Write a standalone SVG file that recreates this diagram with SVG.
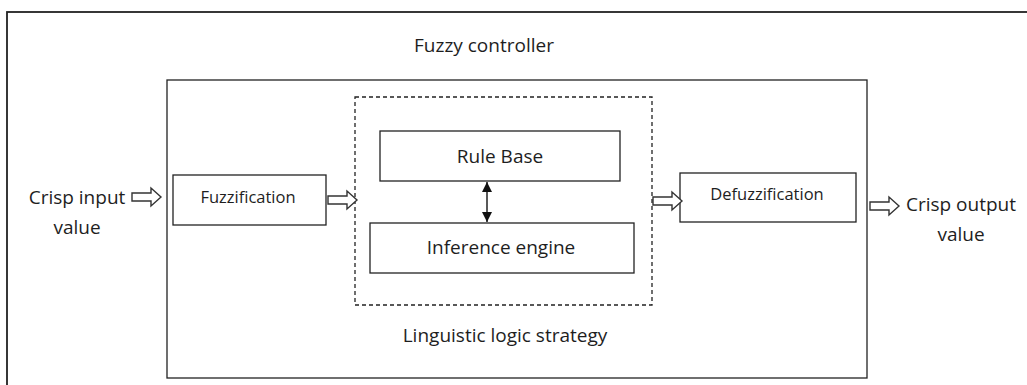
<svg xmlns="http://www.w3.org/2000/svg" width="1027" height="385" viewBox="0 0 1027 385">
<style>
.box{fill:#fff;stroke:#222;stroke-width:1.3}
.dash{fill:none;stroke:#222;stroke-width:1.3;stroke-dasharray:4 3}
.t{font-family:"Open Sans","Liberation Sans",sans-serif;fill:#1e1e1e;text-anchor:middle;font-size:19px}
.s{font-size:16.5px}
.hollow{fill:#fff;stroke:#333;stroke-width:1.4;stroke-linejoin:miter}
.conn{stroke:#222;stroke-width:1.5;fill:none}
</style>
<defs>
<path id="ha" d="M0,-4 H19 V-9 L29,0 L19,9 V4 H0 Z"/>
<marker id="ah" viewBox="0 0 10 10" refX="10" refY="5" markerWidth="10" markerHeight="10" markerUnits="userSpaceOnUse" orient="auto-start-reverse"><path d="M0,0 L10,5 L0,10 Z" fill="#111"/></marker>
</defs>
<rect width="1027" height="385" fill="#fff"/>
<g id="outer"><rect x="7" y="12" width="1030" height="390" fill="none" stroke="#222" stroke-width="1.8"/>
<text class="t" x="484" y="52">Fuzzy controller</text></g>
<g id="controller"><rect x="167" y="80" width="700" height="298" class="box"/>
<text class="t" x="505" y="342">Linguistic logic strategy</text></g>
<g id="strategy"><rect x="355" y="97" width="297" height="208" class="dash"/></g>
<g id="rulebase"><rect x="380" y="131" width="240" height="50" class="box"/>
<text class="t" x="500" y="163">Rule Base</text></g>
<g id="inference"><rect x="370" y="223" width="264" height="50" class="box"/>
<text class="t" x="501" y="254">Inference engine</text></g>
<g id="fuzzification"><rect x="173" y="175" width="153" height="50" class="box"/>
<text class="t s" x="248" y="203">Fuzzification</text></g>
<g id="defuzzification"><rect x="680" y="173" width="176" height="49" class="box"/>
<text class="t s" x="767" y="200">Defuzzification</text></g>
<g id="input"><text class="t" x="77" y="204">Crisp input</text>
<text class="t" x="77" y="234">value</text></g>
<g id="output"><text class="t" x="961" y="211">Crisp output</text>
<text class="t" x="961" y="241">value</text></g>
<g id="connectors">
<use href="#ha" class="hollow" transform="translate(132,197)"/>
<use href="#ha" class="hollow" transform="translate(328,200)"/>
<use href="#ha" class="hollow" transform="translate(653,201)"/>
<use href="#ha" class="hollow" transform="translate(870,206)"/>
<line x1="487" y1="182" x2="487" y2="222" class="conn" marker-start="url(#ah)" marker-end="url(#ah)"/>
</g>
</svg>
